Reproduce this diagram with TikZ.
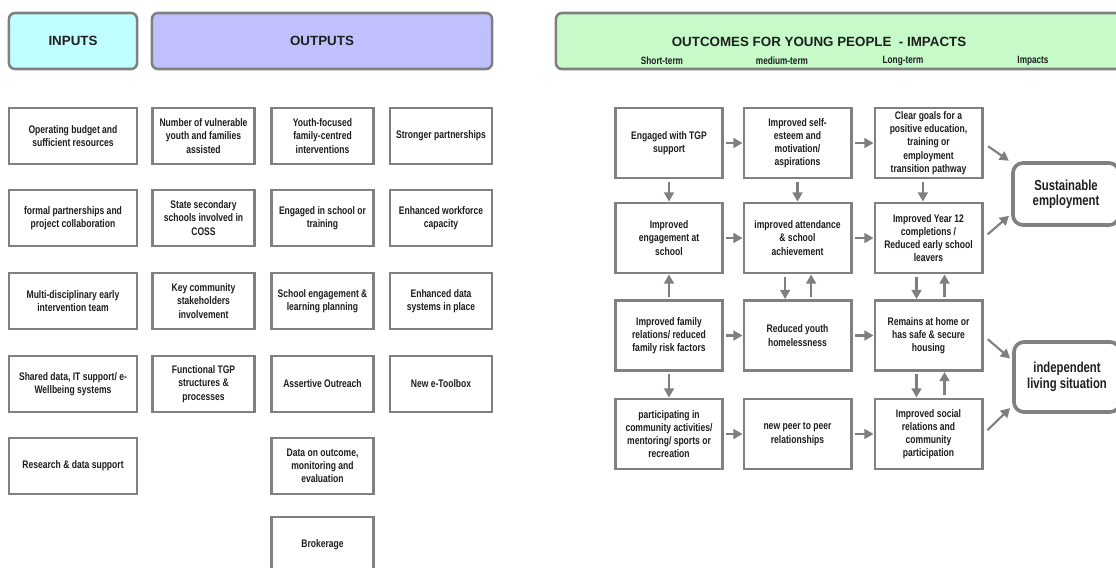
\documentclass[tikz,border=0pt]{standalone}
\usepackage{fontspec}
\setmainfont{Liberation Sans}
\newfontfamily\condfont[FakeStretch=0.78, UprightFont={* Bold}, BoldFont={* Bold}]{Liberation Sans}
\usetikzlibrary{arrows.meta}

\definecolor{boxgray}{HTML}{808080}
\definecolor{arrgray}{HTML}{7F7F7F}
\definecolor{textdark}{HTML}{1E1E1E}
\definecolor{incyan}{HTML}{C0FFFF}
\definecolor{outlilac}{HTML}{C0C0FF}
\definecolor{outgreen}{HTML}{C6FAC8}

\tikzset{
  box/.style={draw=boxgray, line width=1.8pt, fill=white, align=center, text=textdark,
    inner sep=1pt, font=\condfont\fontsize{7.8}{9.4}\selectfont},
  inbox/.style={box, minimum width=3.2cm, minimum height=1.4cm},
  outbox/.style={box, minimum width=2.55cm, minimum height=1.4cm},
  flowbox/.style={box, line width=2.1pt, minimum width=2.675cm, minimum height=1.75cm},
  impactbox/.style={box, rounded corners=0.25cm, line width=2.6pt, minimum width=2.65cm,
    font=\condfont\fontsize{10.3}{11}\selectfont},
  headbox/.style={draw=boxgray, line width=1.8pt, rounded corners=0.15cm, minimum height=1.4cm,
    text=textdark, font=\bfseries\fontsize{9.5}{11}\selectfont},
  termlabel/.style={text=textdark, inner sep=0pt, font=\condfont\fontsize{7.5}{8}\selectfont},
  arr/.style={draw=arrgray, line width=1.5pt, -{Triangle[length=6.5pt,width=7pt]}, shorten <=1.5pt}
}

\begin{document}
\begin{tikzpicture}[x=0.025cm, y=-0.025cm]
  \clip (0,0) rectangle (1116,567);

  % headers
  \node[headbox, fill=incyan, minimum width=3.2cm] (inputs) at (73,41) {INPUTS};
  \node[headbox, fill=outlilac, minimum width=8.5cm] (outputs) at (322,41) {OUTPUTS};
  \node[headbox, fill=outgreen, minimum width=14.2cm] (outcomes) at (840,41) {};
  \node[text=textdark, font=\bfseries\fontsize{9.5}{11}\selectfont] (outtitle) at (819,42)
    {OUTCOMES FOR YOUNG PEOPLE\ \ - IMPACTS};
  \node[termlabel] (short) at (662,61) {Short-term};
  \node[termlabel] (medium) at (782,61) {medium-term};
  \node[termlabel] (long) at (903,61) {Long-term};
  \node[termlabel] (impacts) at (1033,61) {Impacts};

  % inputs
  \node[inbox] (in1) at (73,136) {Operating budget and\\sufficient resources};
  \node[inbox] (in2) at (73,218) {formal partnerships and\\project collaboration};
  \node[inbox] (in3) at (73,301) {Multi-disciplinary early\\intervention team};
  \node[inbox] (in4) at (73,384) {Shared data, IT support/ e-\\Wellbeing systems};
  \node[inbox] (in5) at (73,466) {Research \& data support};

  % outputs
  \node[outbox] (oa1) at (203.5,136) {Number of vulnerable\\youth and families\\assisted};
  \node[outbox] (oa2) at (203.5,218) {State secondary\\schools involved in\\COSS};
  \node[outbox] (oa3) at (203.5,301) {Key community\\stakeholders\\involvement};
  \node[outbox] (oa4) at (203.5,384) {Functional TGP\\structures \&\\processes};

  \node[outbox] (ob1) at (322.5,136) {Youth-focused\\family-centred\\interventions};
  \node[outbox] (ob2) at (322.5,218) {Engaged in school or\\training};
  \node[outbox] (ob3) at (322.5,301) {School engagement \&\\learning planning};
  \node[outbox] (ob4) at (322.5,384) {Assertive Outreach};
  \node[outbox] (ob5) at (322.5,466) {Data on outcome,\\monitoring and\\evaluation};
  \node[outbox] (ob6) at (322.5,545) {Brokerage};

  \node[outbox] (oc1) at (441,136) {Stronger partnerships};
  \node[outbox] (oc2) at (441,218) {Enhanced workforce\\capacity};
  \node[outbox] (oc3) at (441,301) {Enhanced data\\systems in place};
  \node[outbox] (oc4) at (441,384) {New e-Toolbox};

  % outcomes
  \node[flowbox] (a1) at (669,143) {Engaged with TGP\\support};
  \node[flowbox] (a2) at (669,238) {Improved\\engagement at\\school};
  \node[flowbox] (a3) at (669,335.5) {Improved family\\relations/ reduced\\family risk factors};
  \node[flowbox] (a4) at (669,434) {participating in\\community activities/\\mentoring/ sports or\\recreation};

  \node[flowbox] (b1) at (797.5,143) {Improved self-\\esteem and\\motivation/\\aspirations};
  \node[flowbox] (b2) at (797.5,238) {improved attendance\\\& school\\achievement};
  \node[flowbox] (b3) at (797.5,335.5) {Reduced youth\\homelessness};
  \node[flowbox] (b4) at (797.5,434) {new peer to peer\\relationships};

  \node[flowbox] (c1) at (928.5,143) {Clear goals for a\\positive education,\\training or\\employment\\transition pathway};
  \node[flowbox] (c2) at (928.5,238) {Improved Year 12\\completions /\\Reduced early school\\leavers};
  \node[flowbox] (c3) at (928.5,335.5) {Remains at home or\\has safe \& secure\\housing};
  \node[flowbox] (c4) at (928.5,434) {Improved social\\relations and\\community\\participation};

  % impacts
  \node[impactbox, minimum height=1.55cm] (sust) at (1066,194) {Sustainable\\employment};
  \node[impactbox, minimum height=1.75cm] (indep) at (1067,377) {independent\\living situation};

  % connectors
  \draw[arr] (a1) -- (b1);
  \draw[arr] (b1) -- (c1);
  \draw[arr] (a2) -- (b2);
  \draw[arr] (b2) -- (c2);
  \draw[arr] (a3) -- (b3);
  \draw[arr] (b3) -- (c3);
  \draw[arr] (a4) -- (b4);
  \draw[arr] (b4) -- (c4);

  \draw[arr] (a1) -- (a2);
  \draw[arr] (a3) -- (a2);
  \draw[arr] (a3) -- (a4);
  \draw[arr] (b1) -- (b2);
  \draw[arr] ([xshift=-0.31cm]b2.south) -- ([xshift=-0.31cm]b3.north);
  \draw[arr] ([xshift=0.34cm]b3.north) -- ([xshift=0.34cm]b2.south);
  \draw[arr] ([xshift=-0.14cm]c1.south) -- ([xshift=-0.14cm]c2.north);
  \draw[arr] ([xshift=-0.3cm]c2.south) -- ([xshift=-0.3cm]c3.north);
  \draw[arr] ([xshift=0.4cm]c3.north) -- ([xshift=0.4cm]c2.south);
  \draw[arr] ([xshift=-0.3cm]c3.south) -- ([xshift=-0.3cm]c4.north);
  \draw[arr] ([xshift=0.4cm]c4.north) -- ([xshift=0.4cm]c3.south);

  \draw[arr, shorten <=4pt, shorten >=2pt] (c1.east) -- (sust.150);
  \draw[arr, shorten <=4pt, shorten >=2pt] (c2.east) -- (sust.200);
  \draw[arr, shorten <=4pt, shorten >=2pt] (c3.east) -- (indep.163);
  \draw[arr, shorten <=4pt, shorten >=2pt] (c4.east) -- (indep.208);
\end{tikzpicture}
\end{document}
